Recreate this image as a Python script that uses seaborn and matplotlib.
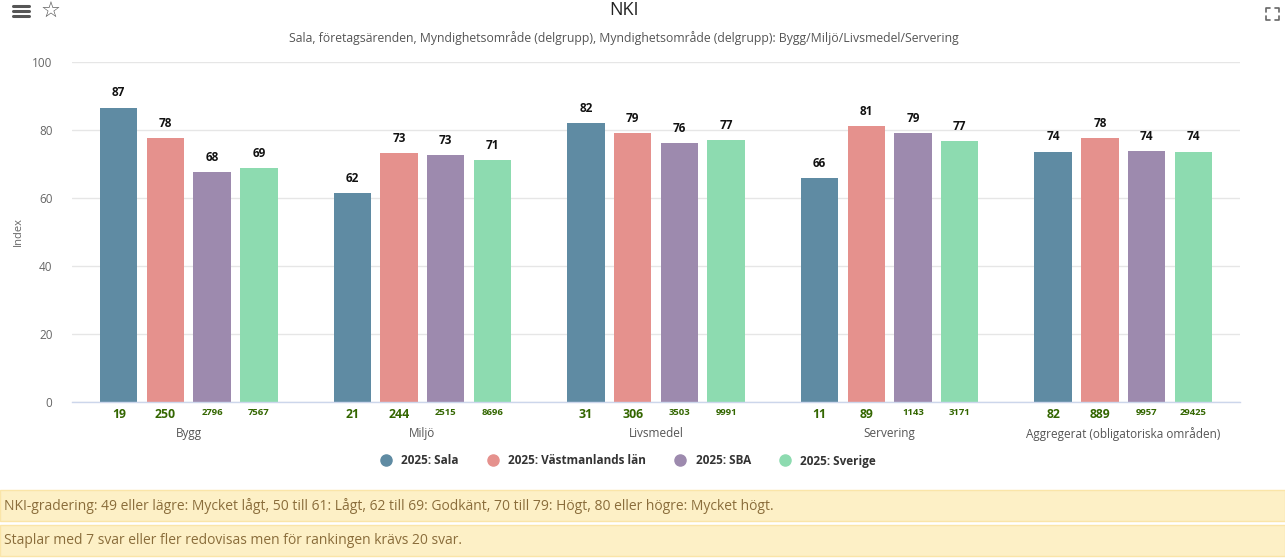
import matplotlib
matplotlib.use("Agg")
import matplotlib.pyplot as plt
import matplotlib.patches as mpatches
import seaborn as sns
import pandas as pd
import numpy as np

categories = ["Bygg", "Miljö", "Livsmedel", "Servering", "Aggregerat (obligatoriska områden)"]
series = ["2025: Sala", "2025: Västmanlands län", "2025: SBA", "2025: Sverige"]
sala = [86.6, 61.5, 82.1, 65.9, 73.6]
vastmanland = [77.6, 73.2, 79.1, 81.2, 77.6]
sba = [67.6, 72.6, 76.2, 79.1, 73.8]
sverige = [68.8, 71.2, 77.1, 76.8, 73.6]
n_sala = [19, 21, 31, 11, 82]
n_vastmanland = [250, 244, 306, 89, 889]
n_sba = [2796, 2515, 3503, 1143, 9957]
n_sverige = [7567, 8696, 9991, 3171, 29425]
colors = ["#5f8ba3", "#e5918d", "#9d8aae", "#8ddbb0"]

sns.set_theme(style="white")
plt.rcParams["font.family"] = ["Open Sans", "DejaVu Sans"]

rows = []
for s, vals, ns in zip(series, [sala, vastmanland, sba, sverige],
                       [n_sala, n_vastmanland, n_sba, n_sverige]):
    for c, v, n in zip(categories, vals, ns):
        rows.append({"cat": c, "series": s, "value": v, "n": n})
df = pd.DataFrame(rows)

W, H = 1285, 559
fig = plt.figure(figsize=(W / 100, H / 100), dpi=100)
ax = fig.add_axes([72 / W, (H - 402) / H, 1168 / W, 340 / H])
sns.barplot(data=df, x="cat", y="value", hue="series", order=categories,
            hue_order=series, palette=colors, width=0.8, gap=0.2,
            saturation=1, ax=ax, legend=False, edgecolor="none")
ax.set_ylim(0, 100)
ax.set_xlim(-0.5, len(categories) - 0.5)
ax.set_yticks([0, 20, 40, 60, 80, 100])
ax.yaxis.grid(True, color="#e6e6e6", linewidth=1)
ax.set_axisbelow(True)
for sp in ["top", "right", "left"]:
    ax.spines[sp].set_visible(False)
ax.spines["bottom"].set_color("#ccd6eb")
ax.spines["bottom"].set_linewidth(1)
ax.tick_params(axis="y", length=0, labelsize=8.5, labelcolor="#666666", pad=14)
ax.tick_params(axis="x", length=0, labelsize=8.5, labelcolor="#555555", pad=18)
ax.set_xlabel("")
ax.set_ylabel("Index", fontsize=8, color="#666666", labelpad=6)

# labels above bars and counts below
for cont, s in zip(ax.containers, series):
    sub = df[df["series"] == s].set_index("cat").loc[categories]
    for patch, (v, n) in zip(cont.patches, zip(sub["value"], sub["n"])):
        xc = patch.get_x() + patch.get_width() / 2
        ax.annotate(f"{v:.0f}", (xc, v), xytext=(0, 6), textcoords="offset points",
                    ha="center", va="bottom", fontsize=8.5, fontweight="bold", color="#111111")
        big = n < 1000
        ax.annotate(f"{n}", (xc, 0), xytext=(0, -4), textcoords="offset points",
                    ha="center", va="top", fontsize=8.8 if big else 6.8,
                    fontweight="bold", color="#336600")

# title & subtitle
fig.text(624 / W, 1 - 10 / H, "NKI", ha="center", va="center", fontsize=13, color="#222222")
fig.text(624 / W, 1 - 38 / H,
         "Sala, företagsärenden, Myndighetsområde (delgrupp), Myndighetsområde (delgrupp): Bygg/Miljö/Livsmedel/Servering",
         ha="center", va="center", fontsize=8.8, color="#555555")

# icons
for yy in [6, 11, 16]:
    fig.add_artist(plt.Line2D([13 / W, 29 / W], [1 - yy / H] * 2, color="#555555", lw=2.2))
fig.text(51 / W, 1 - 12 / H, "☆", ha="center", va="center", fontsize=16,
         color="#555555", family=["DejaVu Sans"])
for (x0, y0, dx, dy) in [(1266, 8, 1, 1), (1279, 8, -1, 1), (1266, 20, 1, -1), (1279, 20, -1, -1)]:
    fig.add_artist(plt.Line2D([x0 / W, x0 / W, (x0 + 4 * dx) / W],
                              [1 - (y0 + 4 * dy) / H, 1 - y0 / H, 1 - y0 / H],
                              color="#666666", lw=1.2))

# legend
handles = [plt.Line2D([], [], marker="o", ls="", markersize=8, markerfacecolor=c,
                      markeredgecolor=c) for c in colors]
fig.legend(handles, series, loc="center", bbox_to_anchor=(625 / W, 1 - 461 / H), ncol=4,
           frameon=False, handletextpad=0.3, columnspacing=1.9,
           prop={"weight": "bold", "size": 8.5})
for t in fig.legends[0].get_texts():
    t.set_color("#333333")

# notes boxes
notes = ["NKI-gradering: 49 eller lägre: Mycket lågt, 50 till 61: Lågt, 62 till 69: Godkänt, 70 till 79: Högt, 80 eller högre: Mycket högt.",
         "Staplar med 7 svar eller fler redovisas men för rankingen krävs 20 svar."]
for (y0, y1), txt in zip([(490, 521), (525, 556)], notes):
    fig.add_artist(mpatches.Rectangle((0, 1 - y1 / H), 1, (y1 - y0) / H,
                                      transform=fig.transFigure, facecolor="#fdf0c6",
                                      edgecolor="#fae5a8", lw=1))
    fig.text(4 / W, 1 - (y0 + y1) / 2 / H, txt, ha="left", va="center",
             fontsize=10, color="#8a6d3b")

fig.savefig("out.png", dpi=100)
